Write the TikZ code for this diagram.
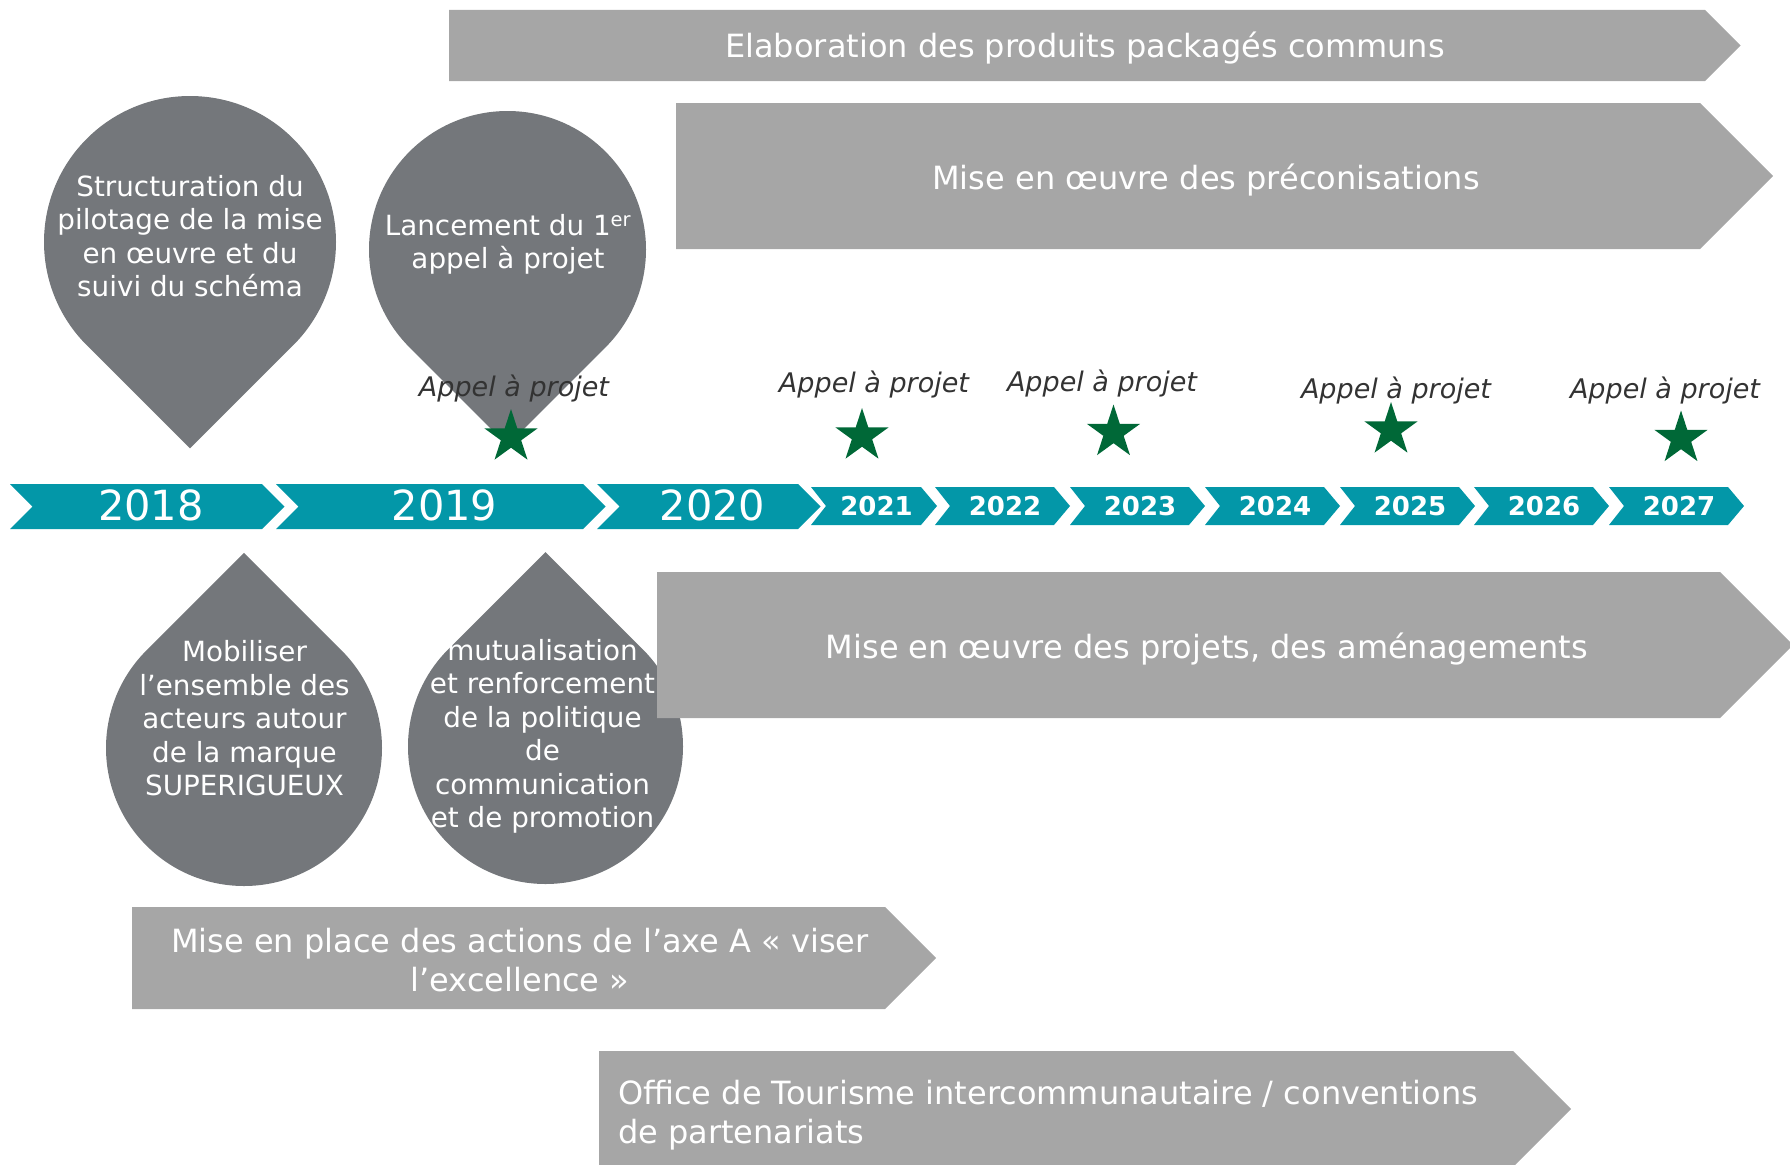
\documentclass[tikz,border=0pt]{standalone}
\usepackage{fontspec}
\setmainfont{DejaVu Sans}
\usetikzlibrary{shapes.geometric}

\definecolor{turquesa}{RGB}{3,151,168}
\definecolor{grisclaro}{RGB}{166,166,166}
\definecolor{grisoscuro}{RGB}{116,119,123}
\definecolor{verde}{RGB}{0,104,55}
\definecolor{textoappel}{RGB}{51,51,51}

\begin{document}
\begin{tikzpicture}[
  x=1pt,
  y=-1pt,
  barra/.style={fill=grisclaro},
  gota/.style={fill=grisoscuro},
  txtbarra/.style={text=white, inner sep=0pt, font=\fontsize{32}{38.5}\selectfont},
  txtgota/.style={text=white, inner sep=0pt, align=center, font=\fontsize{27.8}{33.5}\selectfont},
  anio/.style={text=white, inner sep=0pt, font=\fontsize{41.5}{50}\selectfont},
  aniob/.style={text=white, inner sep=0pt, font=\bfseries\fontsize{26}{31}\selectfont},
  appel/.style={text=textoappel, inner sep=0pt, anchor=base, font=\itshape\fontsize{27}{32}\selectfont},
  estrella/.style={star, star points=5, star point ratio=2.618, fill=verde,
    inner sep=0pt, minimum size=56pt}
]
\useasboundingbox (0,0) rectangle (1790,1164);

%--------------------
% Gotas (punta abajo: 1, punta arriba: -1)
%--------------------
\foreach \cx/\cy/\rad/\s in {190/242/146/1, 507.5/249.5/138.5/1, 244/748/138/-1, 545.5/746.5/137.5/-1} {
  \fill[gota] (\cx,{\cy+\s*1.4142*\rad})
    -- ({\cx+\rad*cos(45*\s)},{\cy+\rad*sin(45*\s)})
    arc[start angle=45*\s, end angle=-225*\s, radius=\rad] -- cycle;
}

%--------------------
% Flechas grises (x0/x1/y0/y1), punta a 45 grados
%--------------------
\foreach \xa/\xb/\ya/\yb in {449/1705/10/81, 676/1700/103/249, 657/1720/572/718, 132/885/907/1009, 599/1513/1051/1167} {
  \fill[barra] (\xa,\ya) -- (\xb,\ya) -- ({\xb+(\yb-\ya)/2},{(\ya+\yb)/2})
    -- (\xb,\yb) -- (\xa,\yb) -- cycle;
}

\node[txtbarra, anchor=base] (elab) at (1085,58) {Elaboration des produits packagés communs};
\node[txtbarra, anchor=base] (preco) at (1206,189) {Mise en œuvre des préconisations};
\node[txtbarra, anchor=base] (proj) at (1207,658) {Mise en œuvre des projets, des aménagements};
\node[txtbarra, align=center] (axea) at (520,960) {Mise en place des actions de l’axe A « viser\\l’excellence »};
\node[txtbarra, align=left, anchor=west,
  font=\fontsize{32}{39}\selectfont] (office) at (618,1115) {Office de Tourisme intercommunautaire / conventions\\de partenariats};

%--------------------
% Textos de las gotas
%--------------------
\node[txtgota] (pilotage) at (190,236) {Structuration du\\pilotage de la mise\\en œuvre et du\\suivi du schéma};
\node[txtgota] (lancement) at (508,244.5) {Lancement du 1\textsuperscript{er}\\appel à projet};
\node[txtgota] (mobiliser) at (244.5,718.5) {Mobiliser\\l’ensemble des\\acteurs autour\\de la marque\\SUPERIGUEUX};
\node[txtgota] (mutual) at (542.5,736.5) {mutualisation\\et renforcement\\de la politique\\de\\communication\\et de promotion};

%--------------------
% Linea de tiempo
%--------------------
\foreach \anio/\xa/\xb in {2018/10/262, 2019/276/583, 2020/597/798} {
  \fill[turquesa] (\xa,484) -- (\xb,484) -- (\xb+22.5,506.5) -- (\xb,529)
    -- (\xa,529) -- (\xa+22.5,506.5) -- cycle;
  \node[anio] (a\anio) at ({(\xa+\xb)/2+15},505.5) {\anio};
}
\foreach \anio/\xa/\xb in {2021/811/921, 2022/935/1054, 2023/1070/1189, 2024/1205/1324, 2025/1340/1459, 2026/1474/1593, 2027/1609/1728} {
  \fill[turquesa] (\xa,487) -- (\xb,487) -- (\xb+16,506) -- (\xb,525)
    -- (\xa,525) -- (\xa+15,506) -- cycle;
  \node[aniob] (a\anio) at ({(\xa+\xb)/2+10.5},506) {\anio};
}

%--------------------
% Estrellas y appels a projet
%--------------------
\foreach \i/\xe/\ye/\xt/\yt in {1/511/437/514/396.5, 2/862/436/874/392, 3/1113.5/432.5/1102/391.5, 4/1391/430/1396/398, 5/1681/438.5/1665/398} {
  \node[appel] (ap\i) at (\xt,\yt) {Appel à projet};
  \node[estrella] (e\i) at (\xe,\ye) {};
}

\end{tikzpicture}
\end{document}
